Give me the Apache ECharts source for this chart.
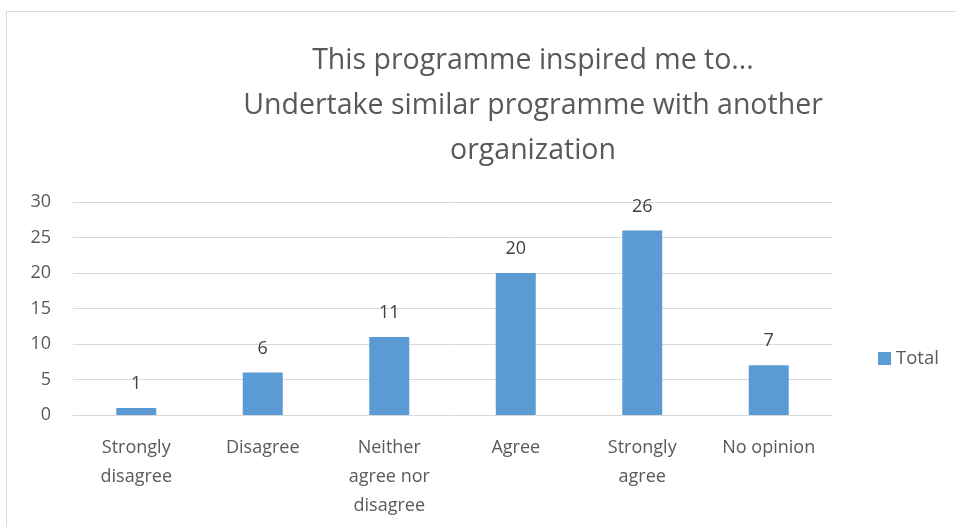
<!DOCTYPE html>
<html>
<head>
<meta charset="utf-8">
<script src="https://cdn.jsdelivr.net/npm/echarts@6/dist/echarts.min.js"></script>
<style>
  html, body { margin: 0; padding: 0; background: #fff; }
  #chart { width: 956px; height: 527px; }
</style>
</head>
<body>
<div id="chart"></div>
<script>
var categories = ['Strongly\ndisagree', 'Disagree', 'Neither\nagree nor\ndisagree', 'Agree', 'Strongly\nagree', 'No opinion']
var totals = [1, 6, 11, 20, 26, 7]
var titleText = 'This programme inspired me to...\nUndertake similar programme with another\norganization'

var font = 'Open Sans'
var chart = echarts.init(document.getElementById('chart'))

var option = {
  animation: false,
  textStyle: { fontFamily: font },
  graphic: [
    {
      type: 'rect',
      shape: { x: 6.5, y: 11.5, width: 960, height: 530 },
      style: { fill: 'none', stroke: '#d9d9d9', lineWidth: 1 }
    }
  ],
  title: {
    text: titleText,
    left: 528,
    top: 33,
    textAlign: 'center',
    textStyle: {
      fontFamily: font,
      fontSize: 28.5,
      fontWeight: 'normal',
      color: '#595959',
      lineHeight: 45
    }
  },
  legend: {
    data: ['Total'],
    left: 873,
    top: 344,
    itemWidth: 13,
    itemHeight: 13,
    itemGap: 6,
    icon: 'rect',
    textStyle: { fontFamily: font, fontSize: 18.5, color: '#595959' }
  },
  grid: {
    left: 73,
    right: 124,
    top: 202,
    bottom: 112,
    containLabel: false
  },
  xAxis: {
    type: 'category',
    data: categories,
    axisLine: { show: true, lineStyle: { color: '#d9d9d9', width: 1 } },
    axisTick: { show: false },
    axisLabel: {
      interval: 0,
      margin: 18,
      fontFamily: font,
      fontSize: 18,
      lineHeight: 29,
      color: '#595959'
    }
  },
  yAxis: {
    type: 'value',
    min: 0,
    max: 30,
    interval: 5,
    axisLine: { show: false },
    axisTick: { show: false },
    splitLine: { lineStyle: { color: '#d9d9d9', width: 1 } },
    axisLabel: {
      margin: 22,
      fontFamily: font,
      fontSize: 18,
      color: '#595959'
    }
  },
  series: [
    {
      name: 'Total',
      type: 'bar',
      data: totals,
      barWidth: 40,
      itemStyle: { color: '#5b9bd5' },
      label: {
        show: true,
        position: 'top',
        distance: 15,
        fontFamily: font,
        fontSize: 18,
        color: '#404040'
      }
    }
  ]
}

chart.setOption(option)
</script>
</body>
</html>
